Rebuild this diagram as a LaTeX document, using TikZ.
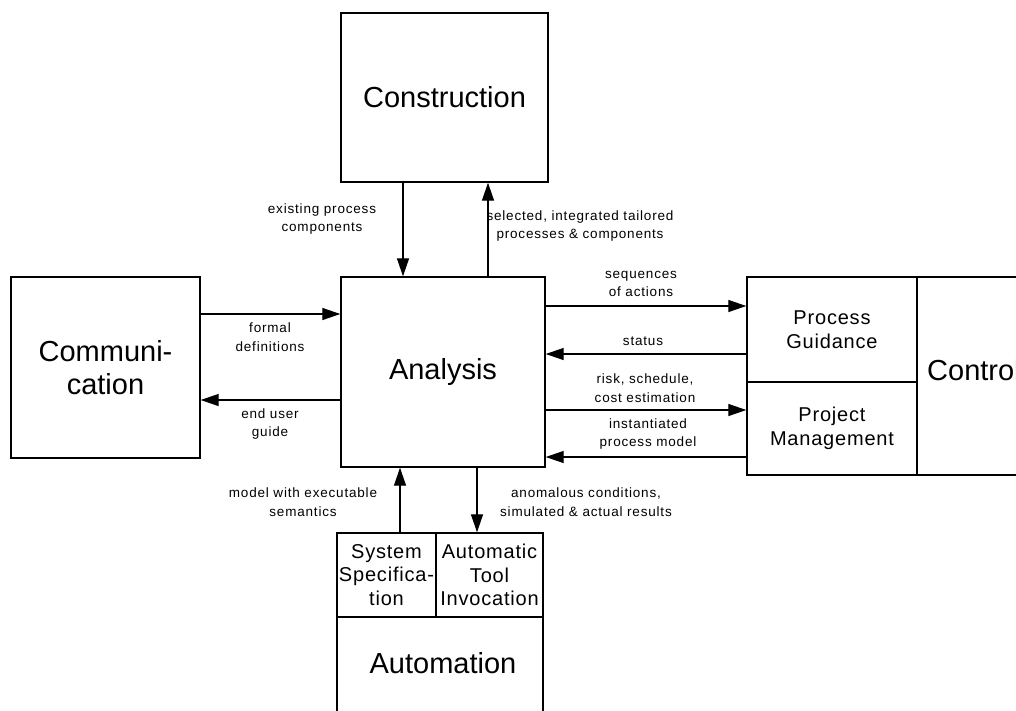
\documentclass[tikz,border=0pt]{standalone}
\usepackage{fontspec}
\setmainfont{Liberation Sans}
\newfontfamily\lblfont[LetterSpace=6]{Liberation Sans}
\newfontfamily\midfont[LetterSpace=4]{Liberation Sans}
\usetikzlibrary{arrows.meta}
\begin{document}
\begin{tikzpicture}[x=1pt,y=-1pt,
  box/.style={draw,line width=1.4pt,inner sep=0pt,align=center},
  big/.style={font=\fontsize{29}{33}\selectfont},
  mid/.style={font=\midfont\fontsize{20}{23.5}\selectfont},
  lbl/.style={font=\lblfont\fontsize{13.5}{18.5}\selectfont,align=center,inner sep=0pt},
  arr/.style={line width=1.3pt,-{Triangle[length=18pt,width=12pt]}}]
\useasboundingbox (0,0) rectangle (1016,710);
\clip (0,0) rectangle (1016,710);
% boxes
\node[box,big,minimum width=207pt,minimum height=169pt] (cons) at (444.5,97.5) {Construction};
\node[box,big,minimum width=204pt,minimum height=190pt] (ana) at (443,372) {Analysis};
\node[box,big,minimum width=189pt,minimum height=181pt] (comm) at (105.5,367.5) {Communi-\\cation};
\node[box,mid,minimum width=170pt,minimum height=105pt] (pg) at (832,329.5) {Process\\Guidance};
\node[box,mid,minimum width=170pt,minimum height=93pt] (pm) at (832,428.5) {Project\\Management};
\node[box,minimum width=113pt,minimum height=198pt] (ctrl) at (973.5,376) {};
\node[big,anchor=west,inner sep=0pt] (ctrlt) at (927,370) {Control};
\node[box,mid,minimum width=99pt,minimum height=84pt] (ss) at (386.5,575) {System\\Specifica-\\tion};
\node[box,mid,minimum width=107pt,minimum height=84pt] (ati) at (489.5,575) {Automatic\\Tool\\Invocation};
\node[box,minimum width=206pt,minimum height=108pt] (auto) at (440,671) {};
\node[big,inner sep=0pt] (autot) at (443,663) {Automation};
% helper coordinates
\coordinate (x403) at (403,0);
\coordinate (x488) at (488,0);
\coordinate (x400) at (400,0);
\coordinate (x477) at (477,0);
\coordinate (y314) at (0,314);
\coordinate (y400) at (0,400);
\coordinate (y306) at (0,306);
\coordinate (y354) at (0,354);
\coordinate (y410) at (0,410);
\coordinate (y457) at (0,457);
% connectors
\draw[arr] (cons.south -| x403) -- (ana.north -| x403);
\draw[arr] (ana.north -| x488) -- (cons.south -| x488);
\draw[arr] (comm.east |- y314) -- (ana.west |- y314);
\draw[arr] (ana.west |- y400) -- (comm.east |- y400);
\draw[arr] (ana.east |- y306) -- (pg.west |- y306);
\draw[arr] (pg.west |- y354) -- (ana.east |- y354);
\draw[arr] (ana.east |- y410) -- (pm.west |- y410);
\draw[arr] (pm.west |- y457) -- (ana.east |- y457);
\draw[arr] (ss.north -| x400) -- (ana.south -| x400);
\draw[arr] (ana.south -| x477) -- (ati.north -| x477);
% labels
\node[lbl] (l1) at (322,219) {existing process\\components};
\node[lbl] (l2) at (580,226) {selected, integrated tailored\\processes \& components};
\node[lbl] (l3) at (270,337) {formal\\definitions};
\node[lbl] (l4) at (270,424) {end user\\guide};
\node[lbl] (l5) at (641,284) {sequences\\of actions};
\node[lbl] (l6) at (643,341) {status};
\node[lbl] (l7) at (645,388) {risk, schedule,\\cost estimation};
\node[lbl] (l8) at (648,434) {instantiated\\process model};
\node[lbl] (l9) at (303,502) {model with executable\\semantics};
\node[lbl] (l10) at (586,502) {anomalous conditions,\\simulated \& actual results};
\end{tikzpicture}
\end{document}
